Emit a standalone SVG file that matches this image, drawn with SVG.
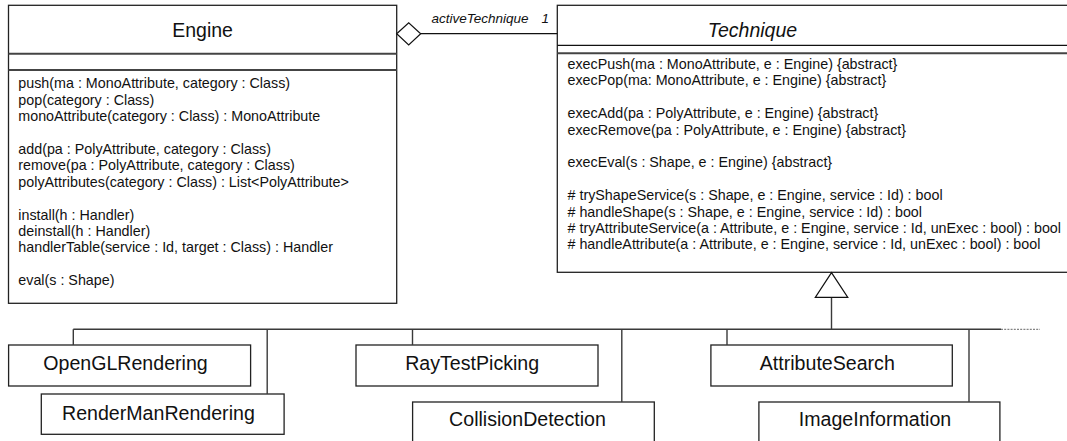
<svg xmlns="http://www.w3.org/2000/svg" width="1067" height="441" viewBox="0 0 1067 441">
  <style>
    text { font-family: "Liberation Sans", Arial, sans-serif; fill: #111; }
    .title { font-size: 19.5px; text-anchor: middle; }
    .abstract { font-style: italic; }
    .op { font-size: 14.3px; }
    .label { font-size: 19.6px; text-anchor: middle; }
    .role { font-size: 13.5px; font-style: italic; }
    .box { fill: #fff; stroke: #222; stroke-width: 1.3; }
    .sep { stroke: #444; stroke-width: 2; }
    .sep1 { stroke: #111; stroke-width: 1.3; }
    .wire { fill: none; stroke: #3a3a3a; stroke-width: 1.4; }
    .head { fill: #fff; stroke: #111; stroke-width: 1.2; }
  </style>

  <!-- class Engine -->
  <g id="engine">
    <rect class="box" x="8.5" y="5.3" width="388.2" height="298"/>
    <line class="sep" x1="8.5" y1="53.7" x2="396.7" y2="53.7"/>
    <line class="sep" x1="8.5" y1="70" x2="396.7" y2="70"/>
    <text class="title" x="202.6" y="36.7">Engine</text>
    <text class="op" x="18.3" y="88.3">push(ma : MonoAttribute, category : Class)</text>
    <text class="op" x="18.3" y="104.7">pop(category : Class)</text>
    <text class="op" x="18.3" y="121.1">monoAttribute(category : Class) : MonoAttribute</text>
    <text class="op" x="18.3" y="153.9">add(pa : PolyAttribute, category : Class)</text>
    <text class="op" x="18.3" y="170.3">remove(pa : PolyAttribute, category : Class)</text>
    <text class="op" x="18.3" y="186.7">polyAttributes(category : Class) : List&lt;PolyAttribute&gt;</text>
    <text class="op" x="18.3" y="219.5">install(h : Handler)</text>
    <text class="op" x="18.3" y="235.9">deinstall(h : Handler)</text>
    <text class="op" x="18.3" y="252.3">handlerTable(service : Id, target : Class) : Handler</text>
    <text class="op" x="18.3" y="285.1">eval(s : Shape)</text>
  </g>

  <!-- abstract class Technique (runs past the right border) -->
  <g id="technique">
    <rect class="box" x="557.3" y="5.3" width="520" height="267"/>
    <line class="sep1" x1="557.3" y1="45.3" x2="1070" y2="45.3"/>
    <line class="sep" x1="557.3" y1="53.3" x2="1070" y2="53.3"/>
    <text class="title abstract" x="752.5" y="37.3">Technique</text>
    <text class="op" x="567.5" y="69">execPush(ma : MonoAttribute, e : Engine) {abstract}</text>
    <text class="op" x="567.5" y="85.4">execPop(ma: MonoAttribute, e : Engine) {abstract}</text>
    <text class="op" x="567.5" y="118.2">execAdd(pa : PolyAttribute, e : Engine) {abstract}</text>
    <text class="op" x="567.5" y="134.6">execRemove(pa : PolyAttribute, e : Engine) {abstract}</text>
    <text class="op" x="567.5" y="167.4">execEval(s : Shape, e : Engine) {abstract}</text>
    <text class="op" x="567.5" y="200.2"># tryShapeService(s : Shape, e : Engine, service : Id) : bool</text>
    <text class="op" x="567.5" y="216.6"># handleShape(s : Shape, e : Engine, service : Id) : bool</text>
    <text class="op" x="567.5" y="233"># tryAttributeService(a : Attribute, e : Engine, service : Id, unExec : bool) : bool</text>
    <text class="op" x="567.5" y="249.4"># handleAttribute(a : Attribute, e : Engine, service : Id, unExec : bool) : bool</text>
  </g>

  <!-- concrete techniques -->
  <g id="opengl-rendering">
    <rect class="box" x="8.6" y="345" width="242" height="41"/>
    <text class="label" x="125.5" y="370">OpenGLRendering</text>
  </g>
  <g id="renderman-rendering">
    <rect class="box" x="41.3" y="394" width="242.8" height="40.3"/>
    <text class="label" x="158.4" y="419.6">RenderManRendering</text>
  </g>
  <g id="raytest-picking">
    <rect class="box" x="356" y="345" width="242" height="41"/>
    <text class="label" x="472.2" y="370">RayTestPicking</text>
  </g>
  <g id="collision-detection">
    <rect class="box" x="412.6" y="402" width="241.7" height="50"/>
    <text class="label" x="527.5" y="426">CollisionDetection</text>
  </g>
  <g id="attribute-search">
    <rect class="box" x="710.9" y="345" width="241.4" height="41"/>
    <text class="label" x="827.3" y="370">AttributeSearch</text>
  </g>
  <g id="image-information">
    <rect class="box" x="758.9" y="402" width="241" height="50"/>
    <text class="label" x="875" y="426">ImageInformation</text>
  </g>

  <!-- connectors -->
  <g id="connectors">
    <!-- aggregation Engine -> Technique -->
    <line class="wire" x1="420.7" y1="33.6" x2="557.3" y2="33.6" stroke="#111" style="stroke:#111;stroke-width:1.2"/>
    <polygon class="head" points="396.7,33.8 408.7,22.7 420.7,33.8 408.7,45"/>
    <text class="role" x="431.5" y="23.3">activeTechnique</text>
    <text class="role" x="541.5" y="23.3">1</text>

    <!-- generalization tree -->
    <line class="wire" x1="831.5" y1="297.3" x2="831.5" y2="329.3"/>
    <polygon class="head" points="831.5,272.6 815.3,297.3 847.8,297.3"/>
    <line class="wire" x1="73.3" y1="329.3" x2="1001" y2="329.3"/>
    <line x1="1001" y1="329.3" x2="1040" y2="329.3" stroke="#555" stroke-width="0.9" stroke-dasharray="2 1.2"/>
    <line class="wire" x1="73.3" y1="329.3" x2="73.3" y2="345"/>
    <line class="wire" x1="267.2" y1="329.3" x2="267.2" y2="394"/>
    <line class="wire" x1="412.5" y1="329.3" x2="412.5" y2="345"/>
    <line class="wire" x1="621.8" y1="329.3" x2="621.8" y2="402"/>
    <line class="wire" x1="727" y1="329.3" x2="727" y2="345"/>
    <line class="wire" x1="969" y1="329.3" x2="969" y2="402"/>
  </g>
</svg>
